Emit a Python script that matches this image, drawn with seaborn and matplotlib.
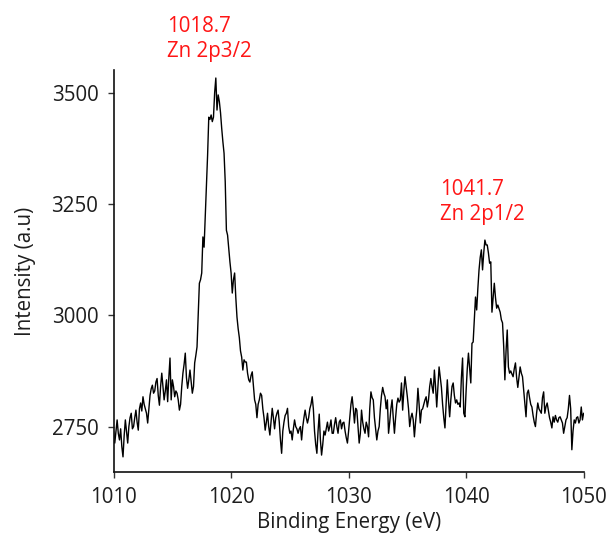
import numpy as np
import pandas as pd
import matplotlib
matplotlib.use("Agg")
import matplotlib.pyplot as plt
import seaborn as sns

# Binding energy grid: 1010.0 .. 1050.0 eV in 0.1 eV steps
energy_start = 1010.0
energy_step = 0.1

# Intensity values (a.u.), one row per eV
intensity = [
    2740, 2713, 2740, 2765, 2735, 2720, 2745, 2705, 2682, 2730,  # 1010
    2765, 2740, 2713, 2750, 2770, 2780, 2745, 2750, 2770, 2787,  # 1011
    2760, 2742, 2790, 2803, 2785, 2817, 2800, 2790, 2780, 2758,  # 1012
    2790, 2820, 2835, 2843, 2825, 2830, 2850, 2858, 2820, 2798,  # 1013
    2840, 2870, 2840, 2810, 2830, 2855, 2806, 2860, 2904, 2810,  # 1014
    2855, 2840, 2817, 2830, 2825, 2810, 2787, 2800, 2840, 2870,  # 1015
    2890, 2915, 2860, 2836, 2855, 2877, 2850, 2825, 2840, 2893,  # 1016
    2910, 2929, 3000, 3072, 3080, 3095, 3176, 3153, 3220, 3288,  # 1017
    3360, 3445, 3440, 3450, 3435, 3445, 3500, 3533, 3461, 3495,  # 1018
    3480, 3455, 3420, 3390, 3364, 3300, 3191, 3180, 3150, 3120,  # 1019
    3095, 3050, 3080, 3095, 3040, 2996, 2970, 2950, 2920, 2906,  # 1020
    2877, 2900, 2895, 2895, 2870, 2855, 2850, 2865, 2873, 2840,  # 1021
    2810, 2800, 2770, 2800, 2810, 2825, 2820, 2790, 2770, 2742,  # 1022
    2760, 2780, 2750, 2731, 2760, 2791, 2770, 2745, 2770, 2780,  # 1023
    2787, 2760, 2720, 2690, 2740, 2760, 2775, 2780, 2791, 2750,  # 1024
    2735, 2740, 2720, 2745, 2765, 2750, 2745, 2735, 2745, 2750,  # 1025
    2720, 2750, 2770, 2787, 2770, 2758, 2770, 2790, 2800, 2817,  # 1026
    2790, 2740, 2710, 2690, 2740, 2778, 2720, 2686, 2710, 2740,  # 1027
    2731, 2745, 2760, 2740, 2750, 2765, 2735, 2735, 2755, 2770,  # 1028
    2750, 2735, 2760, 2765, 2745, 2758, 2760, 2740, 2725, 2713,  # 1029
    2740, 2770, 2800, 2817, 2790, 2758, 2791, 2787, 2750, 2713,  # 1030
    2735, 2787, 2760, 2745, 2735, 2760, 2750, 2727, 2790, 2828,  # 1031
    2815, 2810, 2770, 2745, 2720, 2740, 2750, 2790, 2820, 2838,  # 1032
    2825, 2817, 2790, 2810, 2735, 2760, 2790, 2810, 2770, 2735,  # 1033
    2770, 2800, 2814, 2805, 2810, 2848, 2787, 2830, 2862, 2840,  # 1034
    2817, 2790, 2750, 2770, 2780, 2765, 2727, 2760, 2787, 2836,  # 1035
    2800, 2758, 2787, 2790, 2800, 2810, 2817, 2794, 2810, 2840,  # 1036
    2858, 2840, 2825, 2877, 2840, 2794, 2840, 2884, 2860, 2838,  # 1037
    2800, 2770, 2747, 2800, 2855, 2810, 2772, 2810, 2840, 2848,  # 1038
    2820, 2803, 2810, 2800, 2803, 2794, 2860, 2904, 2780, 2772,  # 1039
    2830, 2880, 2915, 2880, 2848, 2937, 2940, 2990, 3041, 3012,  # 1040
    3060, 3102, 3130, 3147, 3102, 3140, 3169, 3158, 3158, 3140,  # 1041
    3117, 3120, 3007, 3040, 3072, 3040, 3016, 3023, 3015, 3007,  # 1042
    2990, 2983, 2930, 2855, 2920, 2967, 2884, 2870, 2875, 2868,  # 1043
    2862, 2880, 2893, 2860, 2838, 2860, 2884, 2870, 2862, 2832,  # 1044
    2800, 2772, 2825, 2832, 2815, 2800, 2794, 2775, 2760, 2750,  # 1045
    2780, 2803, 2790, 2785, 2780, 2815, 2828, 2780, 2795, 2803,  # 1046
    2787, 2770, 2760, 2747, 2772, 2760, 2775, 2765, 2760, 2770,  # 1047
    2772, 2765, 2758, 2735, 2750, 2765, 2770, 2790, 2820, 2790,  # 1048
    2698, 2740, 2765, 2758, 2770, 2772, 2758, 2765, 2794, 2765,  # 1049
    2780,                                                        # 1050
]

x_ticks = [1010, 1020, 1030, 1040, 1050]
y_ticks = [2750, 3000, 3250, 3500]
peak_labels = ["1018.7\nZn 2p3/2", "1041.7\nZn 2p1/2"]

energy = np.round(energy_start + energy_step * np.arange(len(intensity)), 1)
df = pd.DataFrame({"Binding Energy (eV)": energy, "Intensity (a.u)": intensity})

sns.set_style("ticks")
plt.rcParams["font.family"] = ["Open Sans", "DejaVu Sans"]

W, H = 610, 539
fs = 14.8
fig = plt.figure(figsize=(W / 100, H / 100), dpi=100)
ax = fig.add_axes([113.6 / W, 1 - 472 / H, (583.6 - 113.6) / W, (472 - 70) / H])

sns.lineplot(data=df, x="Binding Energy (eV)", y="Intensity (a.u)", ax=ax,
             color="black", linewidth=1.0)

ax.set_xlim(1010, 1050)
ax.set_ylim(2648, 3551)
ax.set_xticks(x_ticks)
ax.set_yticks(y_ticks)
ax.set_xticklabels([str(t) for t in x_ticks])
ax.set_yticklabels([str(t) for t in y_ticks])
ax.tick_params(axis="both", labelsize=fs, length=4, width=1, color="#333333",
               labelcolor="#1e1e1e", direction="out", pad=7)
ax.set_xlabel("Binding Energy (eV)", fontsize=fs, color="#1e1e1e", labelpad=3)
ax.set_ylabel("Intensity (a.u)", fontsize=fs, color="#1e1e1e", labelpad=11)
for side in ["top", "right"]:
    ax.spines[side].set_visible(False)
for side in ["left", "bottom"]:
    ax.spines[side].set_linewidth(1.2)
    ax.spines[side].set_color("#111111")

red = "#ff1515"
fig.text(167 / W, 1 - 32 / H, peak_labels[0].split("\n")[0], color=red,
         fontsize=fs, ha="left", va="baseline")
fig.text(167 / W, 1 - 57 / H, peak_labels[0].split("\n")[1], color=red,
         fontsize=fs, ha="left", va="baseline")
fig.text(440 / W, 1 - 195 / H, peak_labels[1].split("\n")[0], color=red,
         fontsize=fs, ha="left", va="baseline")
fig.text(440 / W, 1 - 220 / H, peak_labels[1].split("\n")[1], color=red,
         fontsize=fs, ha="left", va="baseline")

fig.savefig("out.png", dpi=100, facecolor="white")
